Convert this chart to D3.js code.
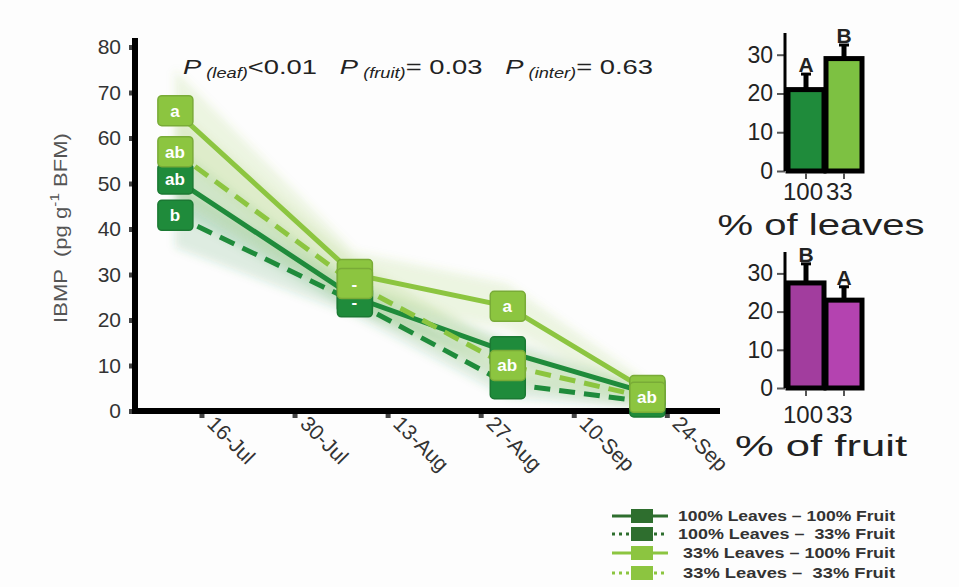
<!DOCTYPE html>
<html lang="en">
<head>
  <meta charset="utf-8">
  <title>IBMP</title>
  <script src="https://cdn.jsdelivr.net/npm/d3@7"></script>
  <style>
    body { margin: 0; background: #fdfdfd; }
    svg { font-family: "Liberation Sans", Arial, sans-serif; }
  </style>
</head>
<body>
  <svg id="chart" width="959" height="587"></svg>
  <script>
    // sampling dates and x tick labels
    var sampleDates = ["2016-07-12", "2016-08-08", "2016-08-31", "2016-09-21"];
    var tickDates = ["2016-07-16", "2016-07-30", "2016-08-13", "2016-08-27", "2016-09-10", "2016-09-24"];
    var tickLabels = ["16-Jul", "30-Jul", "13-Aug", "27-Aug", "10-Sep", "24-Sep"];
    var yTicks = [0, 10, 20, 30, 40, 50, 60, 70, 80];

    // IBMP (pg g-1 BFM) per treatment
    var seriesNames = ["100% Leaves \u2013 100% Fruit", "100% Leaves \u2013  33% Fruit", " 33% Leaves \u2013 100% Fruit", " 33% Leaves \u2013  33% Fruit"];
    var l100f100 = [51, 25, 13, 4];
    var l100f33 = [43, 24, 6, 2];
    var l33f100 = [66, 30, 23, 4.5];
    var l33f33 = [57, 28, 10, 3];
    // error ribbons (+/-)
    var se100f100 = [7, 3, 3, 1.5];
    var se100f33 = [7, 3, 3, 1.5];
    var se33f100 = [9, 5, 5, 2];
    var se33f33 = [9, 5, 4, 2];
    // letters on the markers (empty where the marker is hidden)
    var let100f100 = ["ab", "", "", ""];
    var let100f33 = ["b", "-", "", ""];
    var let33f100 = ["a", "", "a", ""];
    var let33f33 = ["ab", "-", "ab", "ab"];

    // inset bar charts
    var barCats = ["100", "33"];
    var leafMeans = [21, 29];
    var leafUpper = [25, 32.5];
    var leafLetters = ["A", "B"];
    var fruitMeans = [27.5, 23];
    var fruitUpper = [32.5, 26.5];
    var fruitLetters = ["B", "A"];
    var barTicks = [0, 10, 20, 30];

    var darkGreen = "#1f8b3b", lightGreen = "#8cc540";

    var svg = d3.select("#chart");
    var parse = d3.timeParse("%Y-%m-%d");

    var x = d3.scaleTime()
      .domain([parse("2016-07-06"), parse("2016-10-02")])
      .range([135, 720]);
    var y = d3.scaleLinear().domain([0, 80]).range([411, 47]);

    var series = [
      { name: seriesNames[0], values: l100f100, se: se100f100, letters: let100f100, color: darkGreen, dash: null, legend: "#2e6e2e" },
      { name: seriesNames[1], values: l100f33, se: se100f33, letters: let100f33, color: darkGreen, dash: "16,9", legend: "#2e6e2e" },
      { name: seriesNames[2], values: l33f100, se: se33f100, letters: let33f100, color: lightGreen, dash: null, legend: lightGreen },
      { name: seriesNames[3], values: l33f33, se: se33f33, letters: let33f33, color: lightGreen, dash: "16,9", legend: lightGreen }
    ];

    // blur for the ribbons
    svg.append("defs").append("filter").attr("id", "soft")
      .attr("x", "-20%").attr("y", "-20%").attr("width", "140%").attr("height", "140%")
      .append("feGaussianBlur").attr("stdDeviation", 4);

    var area = d3.area()
      .x(function (d) { return x(d.date); })
      .y0(function (d) { return y(d.v - d.se); })
      .y1(function (d) { return y(d.v + d.se); });
    var line = d3.line()
      .x(function (d) { return x(d.date); })
      .y(function (d) { return y(d.v); });

    series.forEach(function (s) {
      s.points = s.values.map(function (v, i) {
        return { date: parse(sampleDates[i]), v: v, se: s.se[i], label: s.letters[i] };
      });
    });

    svg.append("g").attr("filter", "url(#soft)")
      .selectAll("path").data(series).enter().append("path")
      .attr("d", function (s) { return area(s.points); })
      .attr("fill", function (s) { return s.color; })
      .attr("opacity", 0.15);

    // axes
    var yAxis = svg.append("g").attr("transform", "translate(135,0)")
      .call(d3.axisLeft(y).tickValues(yTicks).tickSize(6).tickPadding(8));
    yAxis.select(".domain").remove();
    yAxis.selectAll(".tick line").attr("stroke", "#444").attr("stroke-width", 5);
    yAxis.selectAll(".tick text").attr("font-size", 21).attr("fill", "#333")
      .attr("font-family", "Liberation Sans, Arial, sans-serif");
    svg.append("line").attr("x1", 135).attr("x2", 135).attr("y1", 38).attr("y2", 414)
      .attr("stroke", "#000").attr("stroke-width", 6);

    var xAxis = svg.append("g").attr("transform", "translate(0,411)")
      .call(d3.axisBottom(x).tickValues(tickDates.map(parse)).tickSize(7)
        .tickFormat(function (d, i) { return tickLabels[i]; }));
    xAxis.select(".domain").remove();
    xAxis.selectAll(".tick line").attr("stroke", "#444").attr("stroke-width", 5);
    xAxis.selectAll(".tick text")
      .attr("font-size", 21).attr("fill", "#333")
      .attr("font-family", "Liberation Sans, Arial, sans-serif")
      .attr("text-anchor", "start")
      .attr("dy", 0).attr("y", 0)
      .attr("transform", "translate(4,14) rotate(45)");
    svg.append("line").attr("x1", 132).attr("x2", 720).attr("y1", 411).attr("y2", 411)
      .attr("stroke", "#000").attr("stroke-width", 6);

    // lines
    svg.append("g").selectAll("path").data(series).enter().append("path")
      .attr("d", function (s) { return line(s.points); })
      .attr("fill", "none")
      .attr("stroke", function (s) { return s.color; })
      .attr("stroke-width", 5)
      .attr("stroke-dasharray", function (s) { return s.dash; });

    // markers
    series.forEach(function (s) {
      var g = svg.append("g");
      var m = g.selectAll("g").data(s.points).enter().append("g")
        .attr("transform", function (d) { return "translate(" + x(d.date) + "," + y(d.v) + ")"; });
      m.append("rect")
        .attr("x", -17).attr("y", -15).attr("width", 35).attr("height", 30).attr("rx", 4)
        .attr("fill", s.color)
        .attr("stroke", d3.color(s.color).darker(0.4)).attr("stroke-width", 1.5);
      m.filter(function (d) { return d.label; }).append("text")
        .attr("text-anchor", "middle").attr("dy", "0.35em")
        .attr("fill", "#fff").attr("font-size", 17).attr("font-weight", "bold")
        .text(function (d) { return d.label; });
    });

    // P values
    var pText = svg.append("text").attr("x", 183).attr("y", 74).attr("font-size", 21).attr("fill", "#222");
    [["P", " (leaf)", "<0.01   "], ["P", " (fruit)", "= 0.03   "], ["P", " (inter)", "= 0.63"]].forEach(function (p) {
      pText.append("tspan").attr("font-style", "italic").text(p[0]);
      pText.append("tspan").attr("font-style", "italic").attr("font-size", 14).attr("dy", 4).text(p[1]);
      pText.append("tspan").attr("dy", -4).style("white-space", "pre").text(p[2]);
    });
    pText.attr("textLength", 470).attr("lengthAdjust", "spacingAndGlyphs");

    // y label
    var yl = svg.append("text")
      .attr("transform", "translate(67,228) rotate(-90)")
      .attr("text-anchor", "middle").attr("font-size", 19).attr("fill", "#555")
      .style("white-space", "pre");
    yl.append("tspan").text("IBMP  (pg g");
    yl.append("tspan").attr("font-size", 13).attr("dy", -8).text("-1");
    yl.append("tspan").attr("dy", 8).text(" BFM)");
    yl.attr("textLength", 190).attr("lengthAdjust", "spacingAndGlyphs");

    // insets
    function inset(top, bottom, means, upper, letters, fill, title, tickY, titleY, titleLen) {
      var yb = d3.scaleLinear().domain([0, 35.6]).range([bottom, top]);
      var xb = d3.scaleBand().domain(barCats).range([787, 863]);
      var g = svg.append("g");
      var ax = g.append("g").attr("transform", "translate(785,0)")
        .call(d3.axisLeft(yb).tickValues(barTicks).tickSize(8).tickPadding(4));
      ax.select(".domain").remove();
      ax.selectAll(".tick line").attr("stroke", "#555").attr("stroke-width", 2);
      ax.selectAll(".tick text").attr("font-size", 23).attr("fill", "#222")
        .attr("font-family", "Liberation Sans, Arial, sans-serif");
      g.append("line").attr("x1", 785).attr("x2", 785).attr("y1", top).attr("y2", bottom)
        .attr("stroke", "#000").attr("stroke-width", 3);

      // error bars
      g.selectAll(".err").data(means).enter().append("line")
        .attr("x1", function (d, i) { return xb(barCats[i]) + xb.bandwidth() / 2; })
        .attr("x2", function (d, i) { return xb(barCats[i]) + xb.bandwidth() / 2; })
        .attr("y1", function (d) { return yb(d); })
        .attr("y2", function (d, i) { return yb(upper[i]); })
        .attr("stroke", "#000").attr("stroke-width", 5);
      g.selectAll(".cap").data(upper).enter().append("line")
        .attr("x1", function (d, i) { return xb(barCats[i]) + xb.bandwidth() / 2 - 5; })
        .attr("x2", function (d, i) { return xb(barCats[i]) + xb.bandwidth() / 2 + 5; })
        .attr("y1", function (d) { return yb(d); })
        .attr("y2", function (d) { return yb(d); })
        .attr("stroke", "#000").attr("stroke-width", 3);

      g.selectAll("rect").data(means).enter().append("rect")
        .attr("x", function (d, i) { return xb(barCats[i]) + 1; })
        .attr("width", xb.bandwidth() - 2)
        .attr("y", function (d) { return yb(d); })
        .attr("height", function (d) { return bottom - yb(d); })
        .attr("fill", function (d, i) { return fill[i]; })
        .attr("stroke", "#000").attr("stroke-width", 5);

      g.selectAll(".lt").data(letters).enter().append("text")
        .attr("x", function (d, i) { return xb(barCats[i]) + xb.bandwidth() / 2; })
        .attr("y", function (d, i) { return yb(upper[i]) - 2; })
        .attr("text-anchor", "middle").attr("font-size", 21).attr("font-weight", "bold").attr("fill", "#222")
        .text(function (d) { return d; });

      // x ticks and labels (set close together, as in the source figure)
      g.selectAll(".xt").data(barCats).enter().append("line")
        .attr("x1", function (d) { return xb(d) + xb.bandwidth() / 2; })
        .attr("x2", function (d) { return xb(d) + xb.bandwidth() / 2; })
        .attr("y1", bottom + 2).attr("y2", bottom + 8)
        .attr("stroke", "#555").attr("stroke-width", 2);
      g.selectAll(".xl").data(barCats).enter().append("text")
        .attr("x", function (d) { return d === "100" ? xb(d) + xb.bandwidth() - 2 : xb(d) + 1; })
        .attr("y", tickY)
        .attr("text-anchor", function (d) { return d === "100" ? "end" : "start"; })
        .attr("font-size", 24).attr("fill", "#222")
        .text(function (d) { return d; });
      g.append("text").attr("x", 821).attr("y", titleY).attr("text-anchor", "middle")
        .attr("font-size", 29).attr("fill", "#222")
        .attr("textLength", titleLen).attr("lengthAdjust", "spacingAndGlyphs")
        .text(title);
    }
    inset(33, 171, leafMeans, leafUpper, leafLetters, [darkGreen, "#7dc142"], "% of leaves", 200, 235, 207);
    inset(252, 388, fruitMeans, fruitUpper, fruitLetters, ["#a23d9e", "#b443b0"], "% of fruit", 423, 456, 172);

    // legend
    var leg = svg.append("g").selectAll("g").data(series).enter().append("g")
      .attr("transform", function (d, i) { return "translate(0," + [516, 534, 553, 573][i] + ")"; });
    leg.append("line").attr("x1", 612).attr("x2", 668).attr("y1", 0).attr("y2", 0)
      .attr("stroke", function (d) { return d.legend; }).attr("stroke-width", 3)
      .attr("stroke-dasharray", function (d) { return d.dash ? "3,4" : null; });
    leg.append("rect").attr("x", 631).attr("y", -7).attr("width", 22).attr("height", 14)
      .attr("fill", function (d) { return d.legend; });
    leg.append("text").attr("x", 678).attr("y", 5)
      .attr("font-size", 14).attr("font-weight", "bold").attr("fill", "#333")
      .style("white-space", "pre")
      .attr("textLength", 217).attr("lengthAdjust", "spacingAndGlyphs")
      .text(function (d) { return d.name; });
  </script>
</body>
</html>
